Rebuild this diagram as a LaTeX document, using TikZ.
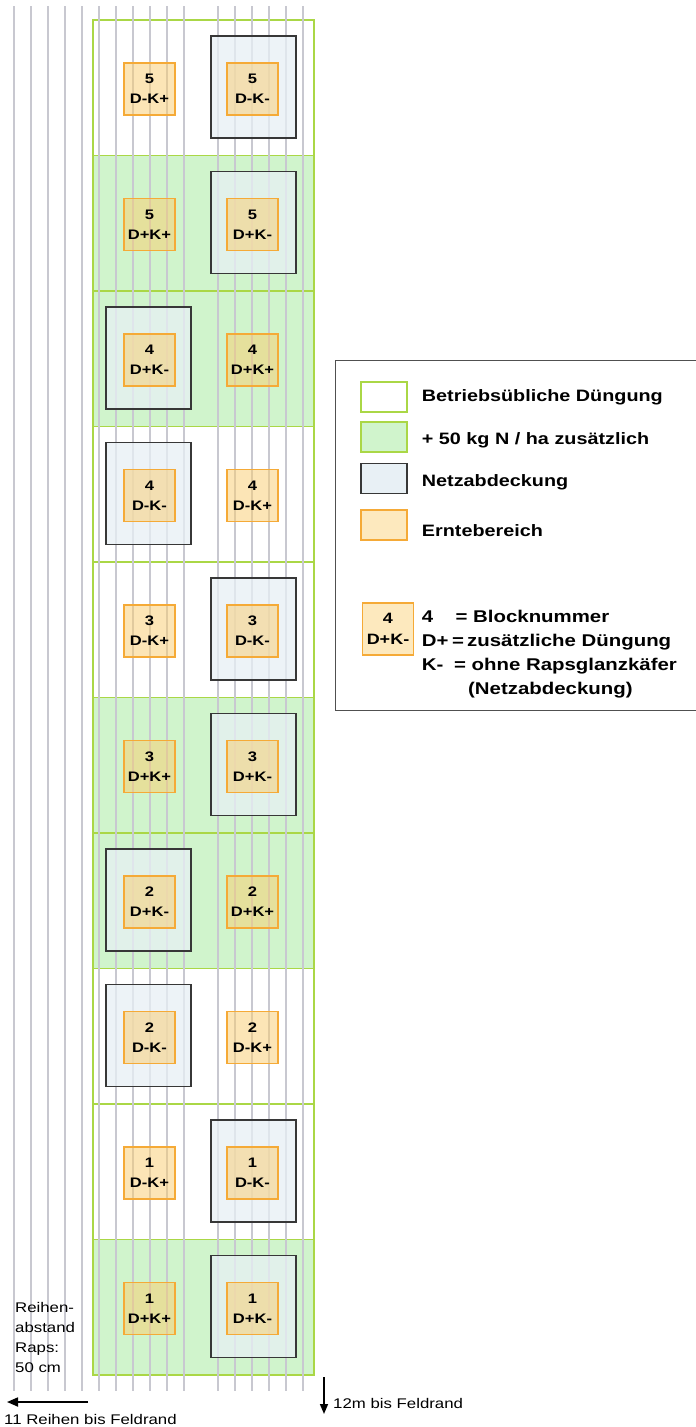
\documentclass[tikz,border=0pt]{standalone}
\usepackage{fontspec}
\setmainfont{Liberation Sans}[FakeStretch=1.2]
\usetikzlibrary{arrows.meta}
\definecolor{fieldborder}{RGB}{170,215,70}
\definecolor{fieldgreen}{RGB}{208,244,204}
\definecolor{netfill}{RGB}{232,240,245}
\definecolor{netborder}{RGB}{55,55,55}
\definecolor{harvfill}{RGB}{250,205,110}
\definecolor{harvsolid}{RGB}{253,233,190}
\definecolor{harvborder}{RGB}{245,170,55}
\definecolor{rowgray}{RGB}{200,200,208}
\definecolor{legborder}{RGB}{80,80,80}
\begin{document}
\begin{tikzpicture}[x=1pt,y=-1pt,
  fieldblock/.style={draw=fieldborder,line width=1.8pt,minimum width=221pt,minimum height=135.5pt,inner sep=0pt},
  netbox/.style={draw=netborder,line width=1.8pt,fill=netfill,fill opacity=0.75,minimum width=85pt,minimum height=102pt,inner sep=0pt},
  harvbox/.style={draw=harvborder,line width=1.5pt,fill=harvfill,fill opacity=0.5,text opacity=1,minimum width=51pt,minimum height=52pt,inner sep=0pt,align=center,font=\bfseries\fontsize{13.8}{20}\selectfont},
  rowline/.style={draw=rowgray,line width=1.6pt},
  swatch/.style={minimum width=46pt,minimum height=30pt,inner sep=0pt,line width=1.5pt},
  legtext/.style={anchor=base west,inner sep=0pt,font=\bfseries\fontsize{16.5}{20}\selectfont},
  keytext/.style={anchor=base west,inner sep=0pt,font=\bfseries\fontsize{17}{20}\selectfont},
  plaintext/.style={inner sep=0pt,font=\fontsize{14}{20}\selectfont},
  arrowline/.style={line width=1.8pt,-{Triangle[length=11pt,width=9pt]}}
]
\useasboundingbox (0,0) rectangle (696,1427);

% field blocks
\foreach \k/\c in {1/white,2/fieldgreen,3/fieldgreen,4/white,5/white,6/fieldgreen,7/fieldgreen,8/white,9/white,10/fieldgreen}
  \node[fieldblock,fill=\c] (f\k) at (203.5,{20+135.5*(\k-1)+67.75}) {};

% crop rows
\foreach \i in {0,1,2,3,4,5,6,7,8,9,10,12,13,14,15,16,17}
  \draw[rowline] ({14+17*\i},6) -- ({14+17*\i},1391);

% net covers and harvest areas
\foreach \k/\nx/\num/\ltxt/\rtxt in {1/253.5/5/D-K+/D-K-,2/253.5/5/D+K+/D+K-,3/148.5/4/D+K-/D+K+,4/148.5/4/D-K-/D-K+,5/253.5/3/D-K+/D-K-,6/253.5/3/D+K+/D+K-,7/148.5/2/D+K-/D+K+,8/148.5/2/D-K-/D-K+,9/253.5/1/D-K+/D-K-,10/253.5/1/D+K+/D+K-}{
  \node[netbox] (n\k) at (\nx,{20+135.5*(\k-1)+67}) {};
  \node[harvbox] (hl\k) at (149.5,{20+135.5*(\k-1)+69}) {\num\\\ltxt};
  \node[harvbox] (hr\k) at (252.5,{20+135.5*(\k-1)+69}) {\num\\\rtxt};
}

% legend
\node[draw=legborder,line width=1.4pt,minimum width=362pt,minimum height=350pt,anchor=north west,inner sep=0pt] (legend) at (335,360) {};
\node[swatch,draw=fieldborder,fill=white] (s1) at (384,397) {};
\node[swatch,draw=fieldborder,fill=fieldgreen] (s2) at (384,437) {};
\node[swatch,draw=netborder,fill=netfill] (s3) at (384,478.5) {};
\node[swatch,draw=harvborder,fill=harvsolid] (s4) at (384,525) {};
\node[legtext] (t1) at (421.7,401.6) {Betriebsübliche Düngung};
\node[legtext] (t2) at (421.7,444) {+ 50 kg N / ha zusätzlich};
\node[legtext] (t3) at (421.7,486) {Netzabdeckung};
\node[legtext] (t4) at (421.7,536) {Erntebereich};

\node[harvbox,fill=harvsolid,fill opacity=1,minimum width=50.6pt,font=\bfseries\fontsize{15}{21}\selectfont] (lg) at (388,629) {4\\D+K-};
\node[keytext] (k1a) at (421.7,622) {4};
\node[keytext] (k1b) at (455.5,622) {=};
\node[keytext] (k1c) at (473,622) {Blocknummer};
\node[keytext] (k2a) at (421.7,646) {D+};
\node[keytext] (k2b) at (452,646) {=};
\node[keytext] (k2c) at (467,646) {zusätzliche Düngung};
\node[keytext] (k3a) at (421.7,670) {K-};
\node[keytext] (k3b) at (454,670) {=};
\node[keytext] (k3c) at (471.5,670) {ohne Rapsglanzkäfer};
\node[keytext] (k4) at (468,694) {(Netzabdeckung)};

% bottom annotations
\node[plaintext,anchor=north west,align=left] (reihen) at (15,1302) {Reihen-\\abstand\\Raps:\\50 cm};
\coordinate (al1) at (88,1402);
\coordinate (al2) at (7,1402);
\draw[arrowline] (al1) -- (al2);
\node[plaintext,anchor=west] (rand1) at (4,1419) {11 Reihen bis Feldrand};
\coordinate (ad1) at (324,1377);
\coordinate (ad2) at (324,1414);
\draw[arrowline,line width=1.5pt,-{Triangle[length=10pt,width=8pt]}] (ad1) -- (ad2);
\node[plaintext,anchor=west] (rand2) at (333,1403) {12m bis Feldrand};
\end{tikzpicture}
\end{document}
